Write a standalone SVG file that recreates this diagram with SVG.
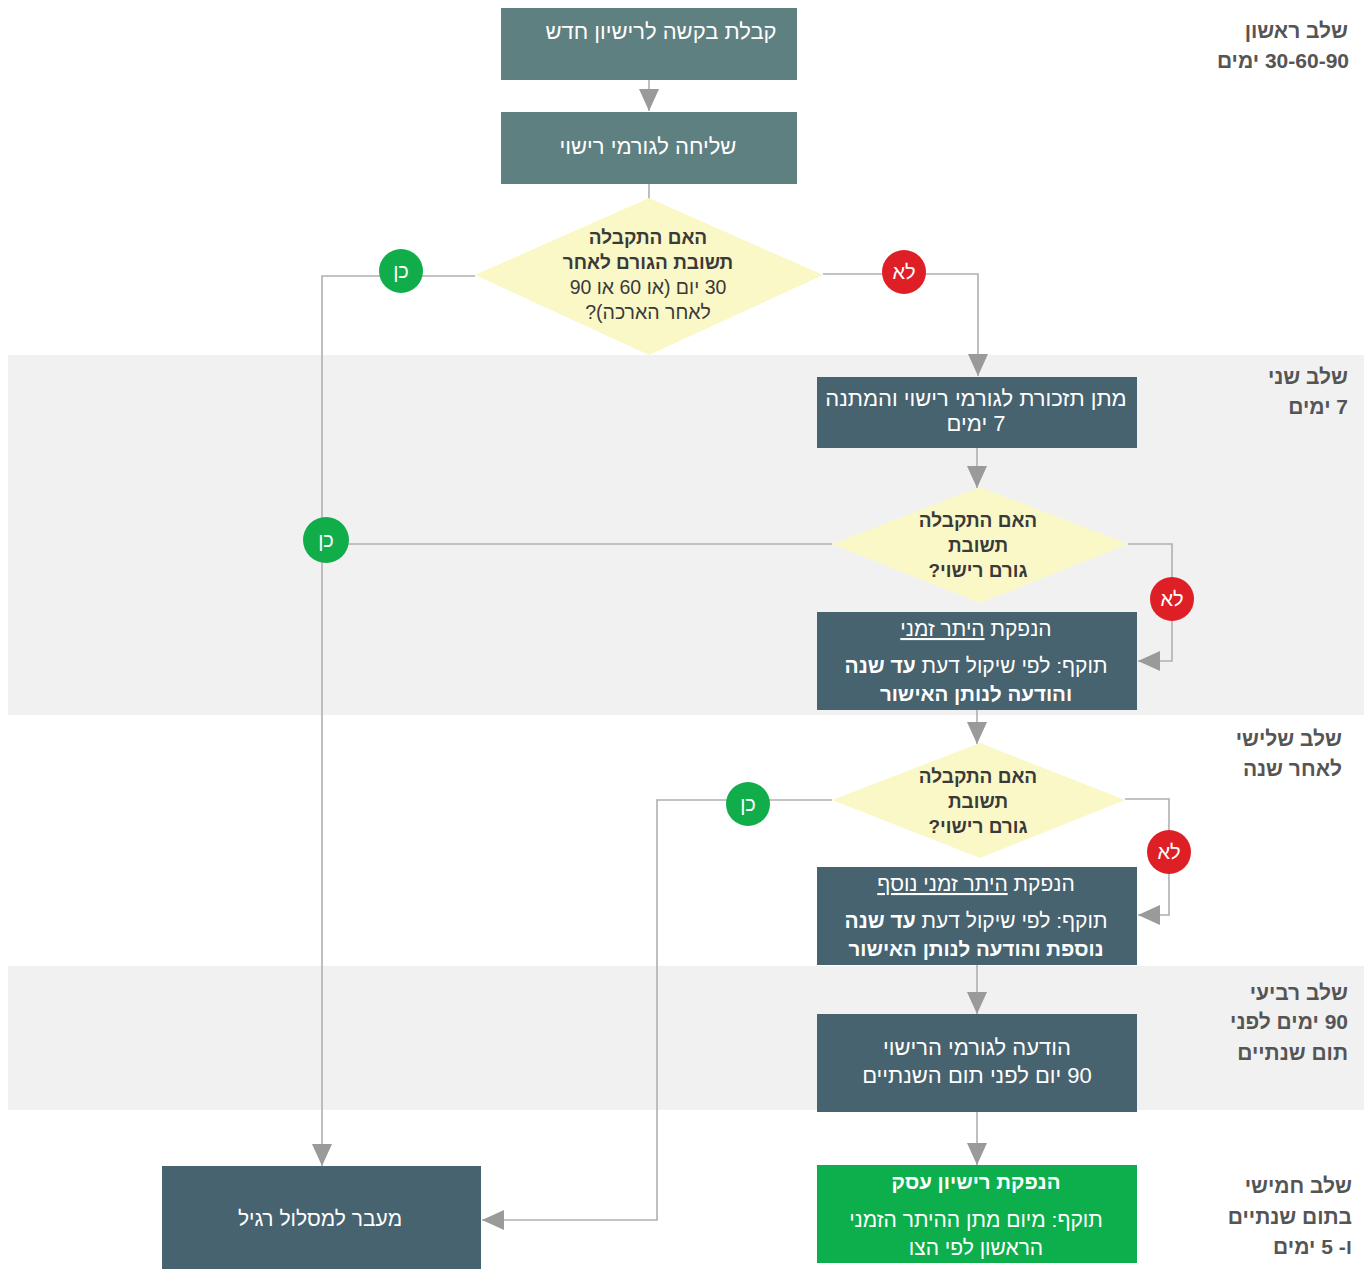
<svg xmlns="http://www.w3.org/2000/svg" width="1372" height="1269" viewBox="0 0 1372 1269">
<defs>
<style>
text{font-family:"Liberation Sans",Arial,"DejaVu Sans",sans-serif;direction:rtl;unicode-bidi:embed}
.bx1{fill:#5f8080}
.bx{fill:#47636f}
.bxg{fill:#0daf4c}
.dm{fill:#faf8c6}
.band{fill:#f1f1f1}
.wt{fill:#ffffff;font-size:21px;text-anchor:middle}
.wl{fill:#ffffff;font-size:22px;text-anchor:middle}
.wb{fill:#ffffff;font-size:20.5px;text-anchor:middle;font-weight:bold}
.dt{fill:#3a3a3a;font-size:19px;text-anchor:middle;font-weight:bold}
.dr{fill:#3a3a3a;font-size:19.5px;text-anchor:middle}
.lbl{fill:#555555;font-size:21px;font-weight:bold;text-anchor:start}
.conn{fill:none;stroke:#b0b0b0;stroke-width:1.6}
.yes{fill:#12ad4b}
.no{fill:#de1f26}
.ct{fill:#ffffff;font-size:20px;text-anchor:middle}
</style>
<marker id="arr" markerUnits="userSpaceOnUse" markerWidth="22" markerHeight="20" refX="22" refY="10" orient="auto" viewBox="0 0 22 20">
<path d="M0,0 L22,10 L0,20 z" fill="#9a9a9a"/>
</marker>
</defs>

<g id="bands">
<rect class="band" x="8" y="355" width="1356" height="360"/>
<rect class="band" x="8" y="966" width="1356" height="144"/>
</g>

<g id="stage-labels">
<text class="lbl" x="1348" y="38">שלב ראשון</text>
<text class="lbl" x="1349" y="68">30-60-90 ימים</text>
<text class="lbl" x="1348" y="384">שלב שני</text>
<text class="lbl" x="1348" y="414">7 ימים</text>
<text class="lbl" x="1342" y="746">שלב שלישי</text>
<text class="lbl" x="1342" y="776">לאחר שנה</text>
<text class="lbl" x="1348" y="1000">שלב רביעי</text>
<text class="lbl" x="1348" y="1029">90 ימים לפני</text>
<text class="lbl" x="1348" y="1060">תום שנתיים</text>
<text class="lbl" x="1352" y="1193">שלב חמישי</text>
<text class="lbl" x="1352" y="1224">בתום שנתיים</text>
<text class="lbl" x="1352" y="1254">ו- 5 ימים</text>
</g>

<g id="connectors">
<path class="conn" d="M649,80 V111" marker-end="url(#arr)"/>
<path class="conn" d="M649,184 V200"/>
<path class="conn" d="M823,274 H978 V376" marker-end="url(#arr)"/>
<path class="conn" d="M475,276 H322 V1166" marker-end="url(#arr)"/>
<path class="conn" d="M977,448 V488" marker-end="url(#arr)"/>
<path class="conn" d="M832,544 H322"/>
<path class="conn" d="M1128,544 H1172 V661 H1138" marker-end="url(#arr)"/>
<path class="conn" d="M977,710 V744" marker-end="url(#arr)"/>
<path class="conn" d="M832,800 H657 V1220 H482" marker-end="url(#arr)"/>
<path class="conn" d="M1125,799 H1169 V915 H1138" marker-end="url(#arr)"/>
<path class="conn" d="M977,965 V1014" marker-end="url(#arr)"/>
<path class="conn" d="M977,1112 V1165" marker-end="url(#arr)"/>
</g>

<g id="n-receive">
<rect class="bx1" x="501" y="8" width="296" height="72"/>
<text class="wl" x="661" y="39">קבלת בקשה לרישיון חדש</text>
</g>

<g id="n-send">
<rect class="bx1" x="501" y="112" width="296" height="72"/>
<text class="wl" x="648" y="154">שליחה לגורמי רישוי</text>
</g>

<g id="n-decision1">
<polygon class="dm" points="649,198 823,275 649,355 475,275"/>
<text class="dt" x="648" y="244">האם התקבלה</text>
<text class="dt" x="648" y="269">תשובת הגורם לאחר</text>
<text class="dr" x="648" y="294">30 יום (או 60 או 90</text>
<text class="dr" x="648" y="319">לאחר הארכה)?</text>
</g>

<g id="n-reminder">
<rect class="bx" x="817" y="377" width="320" height="71"/>
<text class="wl" x="976" y="406">מתן תזכורת לגורמי רישוי והמתנה</text>
<text class="wl" x="976" y="431">7 ימים</text>
</g>

<g id="n-decision2">
<polygon class="dm" points="980,487 1128,544 980,603 832,544"/>
<text class="dt" x="978" y="527">האם התקבלה</text>
<text class="dt" x="978" y="552">תשובת</text>
<text class="dt" x="978" y="577">גורם רישוי?</text>
</g>

<g id="n-temp-permit">
<rect class="bx" x="817" y="612" width="320" height="98"/>
<text class="wt" x="976" y="636">הנפקת <tspan text-decoration="underline">היתר זמני</tspan></text>
<text class="wt" x="976" y="673">תוקף: לפי שיקול דעת <tspan font-weight="bold">עד שנה</tspan></text>
<text class="wb" x="976" y="701">והודעה לנותן האישור</text>
</g>

<g id="n-decision3">
<polygon class="dm" points="980,743 1125,800 980,858 832,800"/>
<text class="dt" x="978" y="783">האם התקבלה</text>
<text class="dt" x="978" y="808">תשובת</text>
<text class="dt" x="978" y="833">גורם רישוי?</text>
</g>

<g id="n-temp-permit2">
<rect class="bx" x="817" y="867" width="320" height="98"/>
<text class="wt" x="976" y="891">הנפקת <tspan text-decoration="underline">היתר זמני נוסף</tspan></text>
<text class="wt" x="976" y="928">תוקף: לפי שיקול דעת <tspan font-weight="bold">עד שנה</tspan></text>
<text class="wb" x="976" y="956">נוספת והודעה לנותן האישור</text>
</g>

<g id="n-notice">
<rect class="bx" x="817" y="1014" width="320" height="98"/>
<text class="wl" x="977" y="1055">הודעה לגורמי הרישוי</text>
<text class="wl" x="977" y="1083">90 יום לפני תום השנתיים</text>
</g>

<g id="n-license">
<rect class="bxg" x="817" y="1165" width="320" height="98"/>
<text class="wb" x="976" y="1189">הנפקת רישיון  עסק</text>
<text class="wt" x="976" y="1227">תוקף: מיום מתן ההיתר הזמני</text>
<text class="wt" x="976" y="1255">הראשון לפי הצו</text>
</g>

<g id="n-regular">
<rect class="bx" x="162" y="1166" width="319" height="110"/>
<text class="wt" x="320" y="1226">מעבר למסלול רגיל</text>
</g>

<g id="badges">
<circle class="yes" cx="401" cy="271" r="22"/>
<text class="ct" x="401" y="278">כן</text>
<circle class="no" cx="904" cy="272" r="22"/>
<text class="ct" x="904" y="279">לא</text>
<circle class="yes" cx="326" cy="540" r="23"/>
<text class="ct" x="326" y="547">כן</text>
<circle class="no" cx="1172" cy="599" r="22"/>
<text class="ct" x="1172" y="606">לא</text>
<circle class="yes" cx="748" cy="804" r="22"/>
<text class="ct" x="748" y="811">כן</text>
<circle class="no" cx="1169" cy="852" r="22"/>
<text class="ct" x="1169" y="859">לא</text>
</g>
</svg>
